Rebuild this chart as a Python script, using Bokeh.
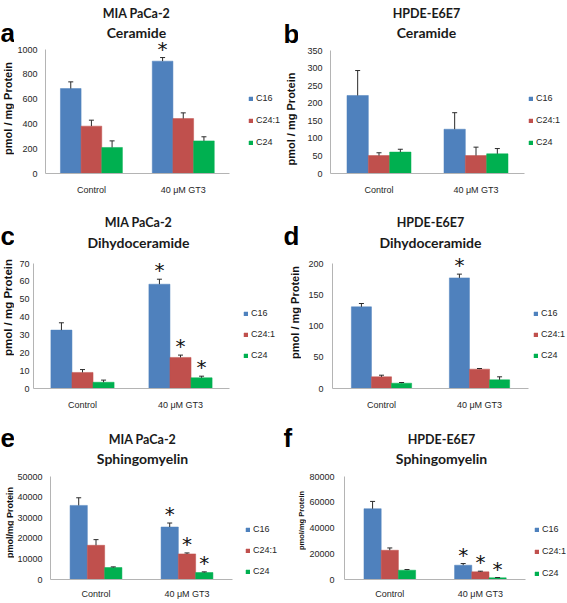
import math
from bokeh.plotting import figure
from bokeh.models import (ColumnDataSource, Range1d, Legend, LegendItem,
                          Label, FixedTicker, BasicTickFormatter)
from bokeh.transform import dodge
from bokeh.layouts import column, row
from bokeh.core.properties import value
from bokeh.embed import file_html
from bokeh.resources import INLINE

# ---------------- data ----------------
groups = ["Control", "40 μM GT3"]
series = ["C16", "C24:1", "C24"]
colors = ["#4F81BD", "#C0504D", "#00B050"]

# a: MIA PaCa-2, Ceramide
a_c16 = [685, 906];      a_c16_err = [54, 29];     a_c16_sig = ["", "*"]
a_c241 = [382, 443];     a_c241_err = [48, 46];    a_c241_sig = ["", ""]
a_c24 = [210, 263];      a_c24_err = [53, 33];     a_c24_sig = ["", ""]
a_ticks = [0, 200, 400, 600, 800, 1000]

# b: HPDE-E6E7, Ceramide
b_c16 = [222, 126];      b_c16_err = [71, 47];     b_c16_sig = ["", ""]
b_c241 = [51, 51];       b_c241_err = [8, 24];     b_c241_sig = ["", ""]
b_c24 = [61, 56];        b_c24_err = [8, 15];      b_c24_sig = ["", ""]
b_ticks = [0, 50, 100, 150, 200, 250, 300, 350]

# c: MIA PaCa-2, Dihydoceramide
c_c16 = [32.7, 58.4];    c_c16_err = [4.1, 2.8];   c_c16_sig = ["", "*"]
c_c241 = [9.0, 17.4];    c_c241_err = [1.6, 1.3];  c_c241_sig = ["", "*"]
c_c24 = [3.5, 6.0];      c_c24_err = [1.2, 0.9];   c_c24_sig = ["", "*"]
c_ticks = [0, 10, 20, 30, 40, 50, 60, 70]

# d: HPDE-E6E7, Dihydoceramide
d_c16 = [130.7, 177];    d_c16_err = [5.3, 6];     d_c16_sig = ["", "*"]
d_c241 = [18.7, 31];     d_c241_err = [2.6, 1];    d_c241_sig = ["", ""]
d_c24 = [8.5, 13.9];     d_c24_err = [1.1, 4.8];   d_c24_sig = ["", ""]
d_ticks = [0, 50, 100, 150, 200]

# e: MIA PaCa-2, Sphingomyelin
e_c16 = [35970, 25480];  e_c16_err = [3700, 1935]; e_c16_sig = ["", "*"]
e_c241 = [16610, 12420]; e_c241_err = [2740, 480]; e_c241_sig = ["", "*"]
e_c24 = [5810, 3390];    e_c24_err = [320, 320];   e_c24_sig = ["", "*"]
e_ticks = [0, 10000, 20000, 30000, 40000, 50000]

# f: HPDE-E6E7, Sphingomyelin
f_c16 = [54970, 11100];  f_c16_err = [5680, 1290]; f_c16_sig = ["", "*"]
f_c241 = [22710, 5935];  f_c241_err = [1800, 520]; f_c241_sig = ["", "*"]
f_c24 = [7226, 1290];    f_c24_err = [520, 260];   f_c24_sig = ["", "*"]
f_ticks = [0, 20000, 40000, 60000, 80000]

SANS = "Liberation Sans"
TITLE_FONT = "Lato"
AXIS_GREY = "#B4B4B4"
TEXT_COL = "#262626"


def make_strip(letter, ylab, ylab_size, lay):
    """Narrow left strip holding the panel letter and the y-axis title."""
    sw, H, B = lay["sw"], lay["H"], lay["B"]
    s = figure(width=sw, height=H, x_range=Range1d(0, sw), y_range=Range1d(0, B),
               x_axis_type=None, y_axis_type=None,
               output_backend="svg", toolbar_location=None,
               min_border_left=0, min_border_right=0, min_border_top=0,
               min_border_bottom=H - B)
    s.background_fill_color = None
    s.border_fill_color = None
    s.outline_line_color = None
    s.xgrid.visible = False
    s.ygrid.visible = False
    s.add_layout(Label(x=0, y=B - lay["lb"], x_units="screen", y_units="screen",
                       text=letter, text_font=SANS, text_font_style="bold",
                       text_font_size="26px", text_color="#000000",
                       text_align="left", text_baseline="alphabetic"))
    yx, yy = lay["yl"]
    s.add_layout(Label(x=yx, y=B - yy, x_units="screen", y_units="screen",
                       text=ylab, angle=math.pi / 2, text_font=SANS, text_font_style="bold",
                       text_font_size=ylab_size, text_color="#111111",
                       text_align="center", text_baseline="middle"))
    return s


def make_panel(t1, t2, vals, errs, sigs, ticks, lay):
    sw = lay["sw"]
    W, H = lay["W"] - sw, lay["H"]
    L, R, T, B = lay["L"] - sw, lay["R"] - sw, lay["T"], lay["B"]
    ng = len(groups)
    ymax = ticks[-1]
    yend = ymax * B / (B - T)           # frame spans whole figure above the x axis
    S = (R - L) / ng                    # px per category
    xend = (W - L) / S
    p = figure(width=W, height=H,
               x_range=Range1d(0, xend), y_range=Range1d(0, yend),
               output_backend="svg", toolbar_location=None,
               min_border_left=L, min_border_right=0,
               min_border_top=0, min_border_bottom=H - B)
    p.background_fill_color = None
    p.border_fill_color = None
    p.outline_line_color = None
    p.xgrid.visible = False
    p.ygrid.visible = False

    centers = [i + 0.5 for i in range(ng)]
    bw = lay["bw"]
    offs = [-bw, 0.0, bw]
    items = []
    for i, s in enumerate(series):
        up = [v + e for v, e in zip(vals[i], errs[i])]
        src = ColumnDataSource(dict(x=centers, v=vals[i], up=up, star=sigs[i]))
        xd = dodge("x", offs[i])
        r = p.vbar(x=xd, top="v", width=bw, source=src,
                   fill_color=colors[i], line_color=colors[i], line_width=0.5)
        p.segment(x0=xd, y0="v", x1=xd, y1="up", source=src,
                  line_color="#2b2b2b", line_width=1)
        p.scatter(x=xd, y="up", marker="dash", size=5, source=src,
                  line_color="#2b2b2b", line_width=1)
        p.text(x=xd, y="up", text="star", source=src,
               text_font=value("DejaVu Sans"), text_font_size="20px",
               text_align="center", text_baseline="alphabetic",
               text_color="#111111", y_offset=-9)
        items.append(LegendItem(label=s, renderers=[r]))

    # y axis
    ya = p.yaxis[0]
    ya.ticker = FixedTicker(ticks=ticks)
    ya.bounds = (0, ymax)
    ya.formatter = BasicTickFormatter(use_scientific=False)
    ya.major_tick_line_color = None
    ya.minor_tick_line_color = None
    ya.major_tick_out = 0
    ya.major_tick_in = 0
    ya.axis_line_color = AXIS_GREY
    ya.major_label_text_font = SANS
    ya.major_label_text_font_size = "9px"
    ya.major_label_text_color = TEXT_COL
    ya.major_label_standoff = lay["ts"]

    # x axis (category labels at category centres)
    xa = p.xaxis[0]
    xa.ticker = FixedTicker(ticks=centers)
    xa.major_label_overrides = {c: g for c, g in zip(centers, groups)}
    xa.bounds = (0, ng)
    xa.major_tick_line_color = None
    xa.minor_tick_line_color = None
    xa.major_tick_out = 0
    xa.major_tick_in = 0
    xa.axis_line_color = AXIS_GREY
    xa.major_label_text_font = SANS
    xa.major_label_text_font_size = "9px"
    xa.major_label_text_color = TEXT_COL
    xa.major_label_standoff = lay["xs"]

    # legend (inside the frame, right of the bars)
    leg = Legend(items=items, location=(lay["lx"] - lay["L"], lay["ly"]),
                 orientation="vertical",
                 glyph_width=5, glyph_height=5, label_standoff=3,
                 spacing=lay["sp"], padding=0, margin=0, label_height=12,
                 border_line_color=None, background_fill_alpha=0,
                 label_text_font=SANS, label_text_font_size="9px",
                 label_text_color=TEXT_COL)
    p.add_layout(leg)

    # two-line title (screen units relative to the frame)
    for txt, yb, fs in ((t1, lay["t1"], "12.5px"), (t2, lay["t2"], "14px")):
        p.add_layout(Label(x=lay["tx"] - lay["L"], y=B - yb, x_units="screen", y_units="screen",
                           text=txt, text_font=TITLE_FONT, text_font_style="bold",
                           text_font_size=fs, text_color="#1a1a1a",
                           text_align="center", text_baseline="alphabetic"))
    return p


# layout in panel pixels (x from panel left, y from panel top); page has no margin
lay_a = dict(W=283, H=200, sw=14, L=42, R=228, T=49, B=173, bw=0.225, ts=8, xs=11,
             lx=245, ly=25, sp=10, tx=133, t1=13, t2=32, lb=32, yl=(7, 108))
lay_b = dict(W=283, H=200, sw=15, L=47, R=241, T=50, B=173, bw=0.22, ts=8, xs=11,
             lx=245, ly=25, sp=10, tx=143, t1=13, t2=32, lb=33, yl=(7, 117))
lay_c = dict(W=283, H=214, sw=14, L=33, R=229, T=63, B=188, bw=0.215, ts=4, xs=11,
             lx=243, ly=27, sp=9, tx=138, t1=22, t2=42, lb=35, yl=(7, 107))
lay_d = dict(W=283, H=214, sw=18, L=49, R=245, T=63, B=188, bw=0.205, ts=9, xs=11,
             lx=250, ly=27, sp=9, tx=147, t1=22, t2=42, lb=35, yl=(11, 112))
lay_e = dict(W=283, H=187, sw=14, L=50, R=232, T=62, B=165, bw=0.19, ts=8, xs=9,
             lx=245, ly=2, sp=9, tx=142, t1=25, t2=44, lb=23, yl=(9, 108))
lay_f = dict(W=283, H=187, sw=23, L=60, R=242, T=62, B=165, bw=0.19, ts=10, xs=9,
             lx=250, ly=0, sp=10, tx=157, t1=25, t2=44, lb=23, yl=(18, 106))

sa = make_strip("a", "pmol / mg Protein", "11px", lay_a)
pa = make_panel("MIA PaCa-2", "Ceramide",
                [a_c16, a_c241, a_c24], [a_c16_err, a_c241_err, a_c24_err],
                [a_c16_sig, a_c241_sig, a_c24_sig], a_ticks, lay_a)
sb = make_strip("b", "pmol / mg  Protein", "11px", lay_b)
pb = make_panel("HPDE-E6E7", "Ceramide",
                [b_c16, b_c241, b_c24], [b_c16_err, b_c241_err, b_c24_err],
                [b_c16_sig, b_c241_sig, b_c24_sig], b_ticks, lay_b)
sc = make_strip("c", "pmol / mg Protein", "11.5px", lay_c)
pc = make_panel("MIA PaCa-2", "Dihydoceramide",
                [c_c16, c_c241, c_c24], [c_c16_err, c_c241_err, c_c24_err],
                [c_c16_sig, c_c241_sig, c_c24_sig], c_ticks, lay_c)
sd = make_strip("d", "pmol / mg Protein", "11px", lay_d)
pd = make_panel("HPDE-E6E7", "Dihydoceramide",
                [d_c16, d_c241, d_c24], [d_c16_err, d_c241_err, d_c24_err],
                [d_c16_sig, d_c241_sig, d_c24_sig], d_ticks, lay_d)
se = make_strip("e", "pmol/mg Protein", "9px", lay_e)
pe = make_panel("MIA PaCa-2", "Sphingomyelin",
                [e_c16, e_c241, e_c24], [e_c16_err, e_c241_err, e_c24_err],
                [e_c16_sig, e_c241_sig, e_c24_sig], e_ticks, lay_e)
sf = make_strip("f", "pmol/mg Protein", "7.5px", lay_f)
pf = make_panel("HPDE-E6E7", "Sphingomyelin",
                [f_c16, f_c241, f_c24], [f_c16_err, f_c241_err, f_c24_err],
                [f_c16_sig, f_c241_sig, f_c24_sig], f_ticks, lay_f)

page = column(row(sa, pa, sb, pb), row(sc, pc, sd, pd), row(se, pe, sf, pf))

open("out.html", "w").write(file_html(page, INLINE))
